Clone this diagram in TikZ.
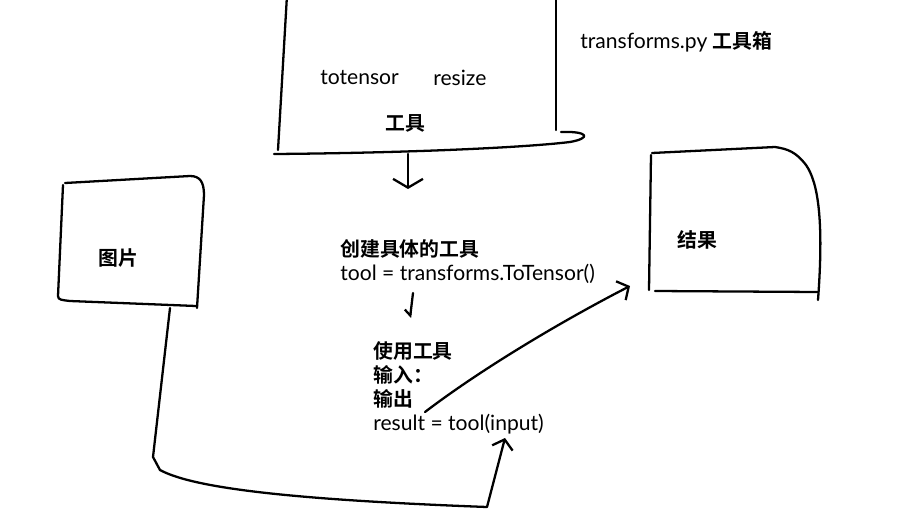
\documentclass[tikz,border=0pt]{standalone}
\usepackage{fontspec}
\usepackage{tikz}
\usetikzlibrary{arrows.meta, positioning}
\setmainfont{Lato}
\newfontfamily\cjk{Noto Sans CJK SC}[BoldFont={Noto Sans CJK SC Bold}]
\newcommand{\zhb}[1]{{\fontsize{11.3}{13.6}\selectfont\cjk\bfseries #1}}

\begin{document}
\begin{tikzpicture}[x=0.02cm, y=-0.02cm,
  sketch/.style={line width=1.3pt, line cap=round, line join=round},
  arrow/.style={sketch, -{Straight Barb[length=5pt, width=12pt]}},
  txt/.style={inner sep=0pt, align=left, font=\fontsize{12}{13.6}\selectfont},
  zh/.style={inner sep=0pt, font=\fontsize{11.3}{13.6}\selectfont\cjk\bfseries},
]
  \useasboundingbox (0,0) rectangle (909,524);
  % toolbox (transforms.py)
  \draw[sketch] (287,-5) -- (278,150);
  \draw[sketch] (556,-5) -- (556,130);
  \draw[sketch] (274,154) .. controls (400,153) and (520,148) .. (570,142)
    .. controls (592,138) and (588,131) .. (561,132);
  \node[txt, anchor=west] (box) at (580,42) {transforms.py \zhb{工具箱}};
  \node[txt, anchor=west] (totensor) at (320,78) {totensor};
  \node[txt, anchor=west] (resize) at (433,78) {resize};
  \node[zh] (tools) at (405,123) {工具};
  % picture box
  \draw[sketch] (65,183) -- (190,176) .. controls (200,176) and (204,182) .. (204,195)
    -- (197,308);
  \draw[sketch] (63,185) -- (58,296) .. controls (58,300) and (62,300) .. (70,301)
    -- (196,306);
  \node[zh] (img) at (118,258) {图片};
  % result box
  \draw[sketch] (651,155) -- (649,290);
  \draw[sketch] (652,153) -- (775,147) .. controls (788,149) and (796,152) .. (806,165)
    .. controls (818,182) and (824,220) .. (818,300);
  \draw[sketch] (655,291) -- (818,292);
  \node[zh] (res) at (697,240) {结果};
  % steps
  \node[txt, anchor=west] (create) at (340,262)
    {\zhb{创建具体的工具}\\tool = transforms.ToTensor()};
  \node[txt, anchor=west] (use) at (373,388)
    {\zhb{使用工具}\\\zhb{输入：}\\\zhb{输出}\\result = tool(input)};
  \coordinate (boxfoot) at (408,154);
  \coordinate (createtop) at (408,189);
  \coordinate (createfoot) at (413,293);
  \coordinate (usetop) at (410,318);
  \coordinate (outend) at (425,412);
  \coordinate (resin) at (630,286);
  \coordinate (imgfoot) at (170,308);
  \coordinate (input) at (505,438);
  \draw[arrow, -{Straight Barb[length=5pt, width=17pt]}] (boxfoot) -- (createtop);
  \draw[arrow, -{Straight Barb[length=3pt, width=7pt, right]}] (createfoot) -- (usetop);
  \draw[arrow] (outend) .. controls (480,370) and (560,322) .. (resin);
  \draw[arrow] (imgfoot) -- (153,457) -- (160,470)
    .. controls (195,489) and (300,500) .. (487,507) -- (input);
\end{tikzpicture}
\end{document}
